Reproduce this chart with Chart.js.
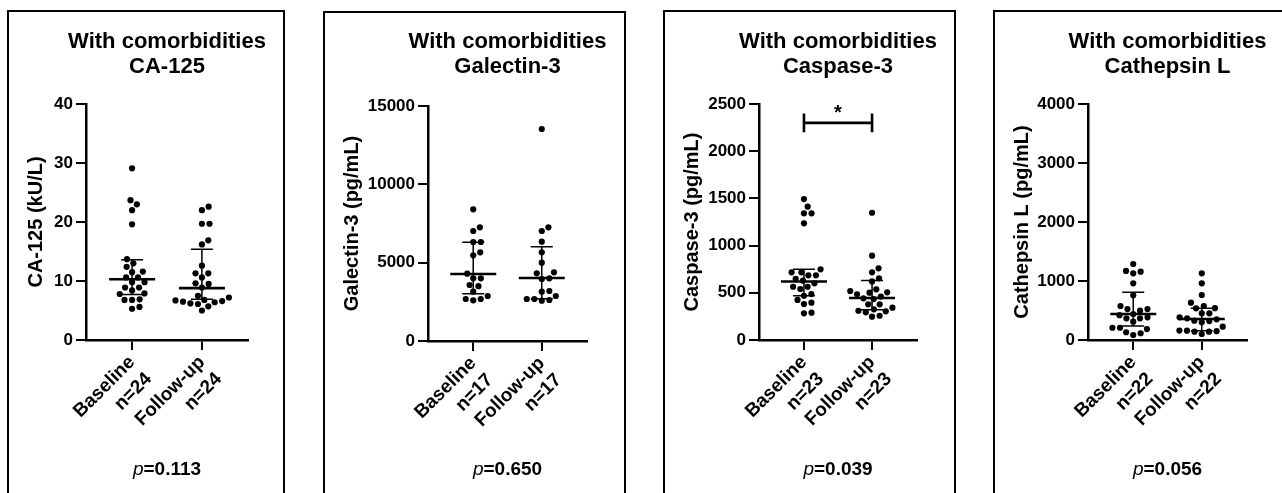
<!DOCTYPE html>
<html><head><meta charset="utf-8">
<script src="https://cdn.jsdelivr.net/npm/chart.js@4.4.0/dist/chart.umd.min.js"></script>
<style>
html,body{margin:0;padding:0;background:#fff}
body{width:1282px;height:493px;overflow:hidden;position:relative}
.panel{position:absolute;border:2px solid #000;box-sizing:border-box;background:#fff;overflow:hidden}
.panel canvas{position:absolute;left:0;top:0}
</style></head>
<body>
<div class="panel" id="p0"><canvas id="c0"></canvas></div>
<div class="panel" id="p1"><canvas id="c1"></canvas></div>
<div class="panel" id="p2"><canvas id="c2"></canvas></div>
<div class="panel" id="p3"><canvas id="c3"></canvas></div>
<script>
// ---------- DATA ----------
const groups = ['Baseline', 'Follow-up'];
const panelTitle = 'With comorbidities';

const ca125Name = 'CA-125';
const ca125Axis = 'CA-125 (kU/L)';
const ca125Ticks = [0, 10, 20, 30, 40];
const ca125N = [24, 24];
const ca125Baseline = [29.1, 23.7, 23.0, 22.0, 19.6, 13.7, 13.0, 12.4, 11.6, 11.5, 10.6, 10.6, 9.8, 9.8, 8.9, 8.9, 8.4, 7.9, 7.8, 6.9, 6.8, 6.8, 5.6, 5.3];
const ca125FollowUp = [22.6, 22.0, 19.7, 19.7, 16.9, 16.2, 12.6, 11.3, 11.3, 10.6, 9.6, 9.5, 8.9, 7.5, 7.2, 6.8, 6.7, 6.6, 6.5, 6.4, 6.2, 6.1, 5.7, 5.0];
const ca125Median = [10.3, 8.8];
const ca125Q1 = [7.7, 6.9];
const ca125Q3 = [13.6, 15.4];
const ca125P = '0.113';

const gal3Name = 'Galectin-3';
const gal3Axis = 'Galectin-3 (pg/mL)';
const gal3Ticks = [0, 5000, 10000, 15000];
const gal3N = [17, 17];
const gal3Baseline = [8406, 7257, 7021, 6319, 6319, 5662, 5470, 4300, 4002, 4002, 3574, 3500, 3147, 2872, 2681, 2681, 2598];
const gal3FollowUp = [13532, 7257, 7021, 6340, 5662, 4998, 4385, 4321, 4002, 3957, 3191, 3147, 2872, 2681, 2681, 2617, 2572];
const gal3Median = [4280, 4020];
const gal3Q1 = [3020, 2700];
const gal3Q3 = [6300, 6010];
const gal3P = '0.650';

const casp3Name = 'Caspase-3';
const casp3Axis = 'Caspase-3 (pg/mL)';
const casp3Ticks = [0, 500, 1000, 1500, 2000, 2500];
const casp3N = [23, 23];
const casp3Baseline = [1493, 1412, 1342, 1342, 1236, 749, 717, 717, 685, 685, 649, 628, 600, 564, 564, 540, 487, 469, 424, 395, 381, 289, 283];
const casp3FollowUp = [1348, 893, 759, 717, 653, 620, 537, 519, 505, 501, 484, 460, 441, 434, 378, 378, 342, 325, 310, 304, 293, 257, 247];
const casp3Median = [620, 445];
const casp3Q1 = [470, 320];
const casp3Q3 = [750, 630];
const casp3P = '0.039';
const casp3Bracket = [2200, 2300, 2400]; // bracket bottom, bar, top
const casp3Star = 2460;

const ctslName = 'Cathepsin L';
const ctslAxis = 'Cathepsin L (pg/mL)';
const ctslTicks = [0, 1000, 2000, 3000, 4000];
const ctslN = [22, 22];
const ctslBaseline = [1288, 1170, 1158, 1130, 961, 758, 576, 525, 525, 497, 441, 420, 385, 368, 368, 310, 208, 208, 186, 131, 114, 85];
const ctslFollowUp = [1130, 961, 763, 632, 576, 537, 540, 452, 452, 385, 368, 351, 327, 320, 300, 226, 160, 158, 150, 141, 141, 102];
const ctslMedian = [441, 356];
const ctslQ1 = [237, 158];
const ctslQ3 = [808, 537];
const ctslP = '0.056';

// ---------- LAYOUT ----------
const FONT = 'Arial, "Liberation Sans", Helvetica, sans-serif';
const panels = [
  {box:[7,10,278], area:[86,248,104,340], name:ca125Name, axis:ca125Axis, ticks:ca125Ticks, n:ca125N, vals:[ca125Baseline, ca125FollowUp], med:ca125Median, q1:ca125Q1, q3:ca125Q3, p:ca125P},
  {box:[323,11,303], area:[428,587,106,341], name:gal3Name, axis:gal3Axis, ticks:gal3Ticks, n:gal3N, vals:[gal3Baseline, gal3FollowUp], med:gal3Median, q1:gal3Q1, q3:gal3Q3, p:gal3P},
  {box:[663,10,293], area:[759,917,104,340], name:casp3Name, axis:casp3Axis, ticks:casp3Ticks, n:casp3N, vals:[casp3Baseline, casp3FollowUp], med:casp3Median, q1:casp3Q1, q3:casp3Q3, p:casp3P, bracket:casp3Bracket, star:casp3Star},
  {box:[993,10,300], area:[1088,1247,104,340], name:ctslName, axis:ctslAxis, ticks:ctslTicks, n:ctslN, vals:[ctslBaseline, ctslFollowUp], med:ctslMedian, q1:ctslQ1, q3:ctslQ3, p:ctslP}
];

const summaryPlugin = {
  id: 'summary',
  afterDatasetsDraw(chart, args, o) {
    const pc = o.pc; if (!pc) return;
    const ctx = chart.ctx, xs = chart.scales.x, ys = chart.scales.y;
    ctx.save();
    ctx.strokeStyle = '#000';
    ctx.lineCap = 'butt';
    for (let i = 0; i < 2; i++) {
      const cx = xs.getPixelForValue(i);
      const ym = ys.getPixelForValue(pc.med[i]);
      const y1 = ys.getPixelForValue(pc.q1[i]);
      const y3 = ys.getPixelForValue(pc.q3[i]);
      ctx.lineWidth = 1.5;
      ctx.beginPath();
      ctx.moveTo(cx, y1); ctx.lineTo(cx, y3);
      ctx.moveTo(cx - 11, y1); ctx.lineTo(cx + 11, y1);
      ctx.moveTo(cx - 11, y3); ctx.lineTo(cx + 11, y3);
      ctx.stroke();
      ctx.lineWidth = 2.6;
      ctx.beginPath();
      ctx.moveTo(cx - 23, ym); ctx.lineTo(cx + 23, ym);
      ctx.stroke();
    }
    if (pc.bracket) {
      const xa = xs.getPixelForValue(0), xb = xs.getPixelForValue(1);
      const yb = ys.getPixelForValue(pc.bracket[0]);
      const ym = ys.getPixelForValue(pc.bracket[1]);
      const yt = ys.getPixelForValue(pc.bracket[2]);
      ctx.lineWidth = 2.6;
      ctx.beginPath();
      ctx.moveTo(xa, yb); ctx.lineTo(xa, yt);
      ctx.moveTo(xb, yb); ctx.lineTo(xb, yt);
      ctx.moveTo(xa, ym); ctx.lineTo(xb, ym);
      ctx.stroke();
      ctx.fillStyle = '#000';
      ctx.font = 'bold 20px ' + FONT;
      ctx.textAlign = 'center';
      ctx.textBaseline = 'alphabetic';
      ctx.fillText('*', xs.getPixelForValue(0.5), ys.getPixelForValue(pc.star) + 11.5);
    }
    ctx.restore();
  },
  afterDraw(chart, args, o) {
    const pc = o.pc; if (!pc) return;
    const ctx = chart.ctx, ca = chart.chartArea;
    const cx = (ca.left + ca.right) / 2;
    const oy = pc.box[1] + 2;
    ctx.save();
    ctx.fillStyle = '#000';
    ctx.textAlign = 'center';
    ctx.textBaseline = 'middle';
    ctx.font = 'bold 22px ' + FONT;
    ctx.fillText(panelTitle, cx, 42 - oy);
    ctx.fillText(pc.name, cx, 67 - oy);
    // p-value
    const f1 = 'italic 19px ' + FONT, f2 = 'bold 19px ' + FONT;
    ctx.font = f1; const w1 = ctx.measureText('p').width;
    ctx.font = f2; const w2 = ctx.measureText('=' + pc.p).width;
    const x0 = cx - (w1 + w2) / 2;
    ctx.textAlign = 'left';
    ctx.font = f1; ctx.fillText('p', x0, 470 - oy);
    ctx.font = f2; ctx.fillText('=' + pc.p, x0 + w1, 470 - oy);
    ctx.restore();
  }
};

function swarm(ys, D) {
  const idx = ys.map((y, i) => i).sort((a, b) => ys[b] - ys[a]);
  const placed = [], out = new Array(ys.length);
  for (const i of idx) {
    const y = ys[i];
    const cands = [0];
    for (const p of placed) {
      const dy = Math.abs(p.y - y);
      if (dy < D) { const dx = Math.sqrt(D * D - dy * dy); cands.push(p.x + dx, p.x - dx); }
    }
    cands.sort((a, b) => Math.abs(a) - Math.abs(b));
    let best = 0;
    for (const c of cands) {
      if (placed.every(p => (p.x - c) ** 2 + (p.y - y) ** 2 >= D * D - 0.01)) { best = c; break; }
    }
    placed.push({x: best, y}); out[i] = best;
  }
  return out;
}

panels.forEach((pc, k) => {
  const div = document.getElementById('p' + k);
  const [bl, bt, bw] = pc.box;
  div.style.left = bl + 'px'; div.style.top = bt + 'px';
  div.style.width = bw + 'px'; div.style.height = '520px';
  const ox = bl + 2, oy = bt + 2;
  const W = bw - 4, H = 493 - oy;
  const cv = document.getElementById('c' + k);
  cv.width = W; cv.height = H;
  cv.style.width = W + 'px'; cv.style.height = H + 'px';
  const L = pc.area[0] - ox, R = pc.area[1] - ox, T = pc.area[2] - oy, B = pc.area[3] - oy;
  const padLeft = 15, xH = 120;
  const tmax = pc.ticks[pc.ticks.length - 1];
  const chart = new Chart(cv, {
    type: 'scatter',
    data: {
      datasets: pc.vals.map((arr, i) => ({
        data: arr.map(v => ({x: i, y: v})),
        backgroundColor: '#000', borderColor: '#000',
        pointRadius: 3.1, pointHoverRadius: 3.1, borderWidth: 0
      }))
    },
    options: {
      responsive: false, animation: false, devicePixelRatio: 1,
      layout: {padding: {left: padLeft, right: W - R, top: T, bottom: H - B - xH}},
      plugins: {legend: {display: false}, tooltip: {enabled: false}, summary: {pc}},
      scales: {
        x: {
          type: 'linear', min: -0.66, max: 1.66,
          afterBuildTicks: s => { s.ticks = [{value: 0}, {value: 1}]; },
          afterFit: s => { s.height = xH; },
          ticks: {
            autoSkip: false, minRotation: 45, maxRotation: 45, padding: 1,
            color: '#000', font: {family: FONT, size: 19, weight: 'bold', lineHeight: 1.25},
            callback: (v) => [groups[v], 'n=' + pc.n[v]]
          },
          grid: {drawOnChartArea: false, drawTicks: true, tickLength: 10, tickColor: '#000', tickWidth: 2, color: '#000', lineWidth: 2},
          border: {display: true, color: '#000', width: 2.5}
        },
        y: {
          type: 'linear', min: 0, max: tmax,
          afterBuildTicks: s => { s.ticks = pc.ticks.map(v => ({value: v})); },
          afterFit: s => { s.width = L - padLeft; },
          ticks: {color: '#000', padding: 3, font: {family: FONT, size: 17, weight: 'bold'}, callback: v => String(v)},
          grid: {drawOnChartArea: false, drawTicks: true, tickLength: 10, tickColor: '#000', tickWidth: 2, color: '#000', lineWidth: 2},
          border: {display: true, color: '#000', width: 2.5},
          title: {display: true, text: pc.axis, color: '#000', padding: 0, font: {family: FONT, size: 20, weight: 'bold', lineHeight: 1.2}}
        }
      }
    },
    plugins: [summaryPlugin]
  });
  const xs = chart.scales.x, ysc = chart.scales.y;
  const pxPerUnit = xs.getPixelForValue(1) - xs.getPixelForValue(0);
  pc.vals.forEach((arr, i) => {
    const offs = swarm(arr.map(v => ysc.getPixelForValue(v)), 7.6);
    chart.data.datasets[i].data = arr.map((v, j) => ({x: i + offs[j] / pxPerUnit, y: v}));
  });
  chart.update('none');
});
</script>
</body></html>
